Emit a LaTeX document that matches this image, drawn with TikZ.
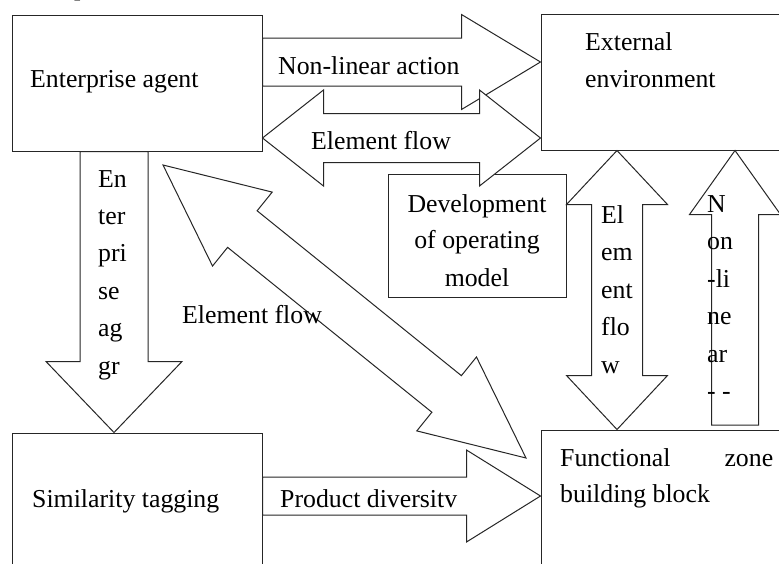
\documentclass[tikz,border=0pt]{standalone}
\usepackage{fontspec}
\setmainfont{Liberation Serif}
\usetikzlibrary{calc}
\tikzstyle{bx}=[draw=black!85,fill=white,line width=1pt,inner sep=0pt]
\tikzstyle{blk}=[draw=black!85,fill=white,line width=1pt,line join=miter]
\tikzstyle{txt}=[inner sep=0pt,font=\fontsize{25.8pt}{37.5pt}\selectfont]
% block arrows: tail, tip, half shaft, half head, head length, name
\newcommand{\onearrow}[6]{%
  \coordinate (#6h) at ($(#2)!#5!(#1)$);
  \draw[blk] ($(#1)!#3!90:(#2)$) -- ($(#6h)!#3!90:(#2)$) -- ($(#6h)!#4!90:(#2)$) -- (#2)
    -- ($(#6h)!#4!-90:(#2)$) -- ($(#6h)!#3!-90:(#2)$) -- ($(#1)!#3!-90:(#2)$) -- cycle;}
\newcommand{\twoarrow}[6]{%
  \coordinate (#6a) at ($(#1)!#5!(#2)$);
  \coordinate (#6b) at ($(#2)!#5!(#1)$);
  \draw[blk] (#1) -- ($(#6a)!#4!90:(#2)$) -- ($(#6a)!#3!90:(#2)$) -- ($(#6b)!#3!90:(#2)$)
    -- ($(#6b)!#4!90:(#2)$) -- (#2) -- ($(#6b)!#4!-90:(#2)$) -- ($(#6b)!#3!-90:(#2)$)
    -- ($(#6a)!#3!-90:(#2)$) -- ($(#6a)!#4!-90:(#2)$) -- cycle;}

\begin{document}
\begin{tikzpicture}[x=1pt,y=-1pt]
\useasboundingbox (0,0) rectangle (779,563);
\node[bx,minimum width=250pt,minimum height=136pt] (ent) at (137,83) {};
\node[bx,minimum width=259pt,minimum height=136pt] (ext) at (670.5,82) {};
\node[bx,minimum width=178pt,minimum height=123pt] (dev) at (477,235.5) {};
\node[bx,minimum width=250pt,minimum height=167pt] (sim) at (137,516.5) {};
\node[bx,minimum width=259pt,minimum height=170pt] (fun) at (670.5,515) {};

\coordinate (nla1) at (ent.east |- 0,62);
\coordinate (nla2) at (ext.west |- 0,62);
\coordinate (efa1) at (ent.east |- 0,138);
\coordinate (efa2) at (ext.west |- 0,138);
\coordinate (agg1) at (114,0 |- ent.south);
\coordinate (agg2) at (114,0 |- sim.north);
\coordinate (dia1) at (163,165);
\coordinate (dia2) at (526,458);
\coordinate (pd1) at (sim.east |- 0,496);
\coordinate (pd2) at (fun.west |- 0,496);
\coordinate (efb1) at (617,0 |- ext.south);
\coordinate (efb2) at (617,0 |- fun.north);
\coordinate (nl1) at (735,425);
\coordinate (nl2) at (735,0 |- ext.south);

\onearrow{nla1}{nla2}{24pt}{47.5pt}{79pt}{nla}
\twoarrow{efa1}{efa2}{24.5pt}{48pt}{61pt}{efa}
\onearrow{agg1}{agg2}{34pt}{68pt}{71pt}{agg}
\twoarrow{dia1}{dia2}{23.5pt}{47.5pt}{102pt}{dia}
\onearrow{pd1}{pd2}{19pt}{46pt}{74pt}{pd}
\twoarrow{efb1}{efb2}{25.5pt}{50.5pt}{54pt}{efb}
\onearrow{nl1}{nl2}{23.5pt}{45.5pt}{64pt}{nl}

\node[txt,anchor=base west] (cut) at (74,-5) {p};
\node[txt,anchor=base west] (entt) at (30,87) {Enterprise agent};
\node[txt,anchor=base west] (extt1) at (585,50) {External};
\node[txt,anchor=base west] (extt2) at (585,87) {environment};
\node[txt,anchor=base] (devt1) at (477,212) {Development};
\node[txt,anchor=base] (devt2) at (477,248) {of operating};
\node[txt,anchor=base] (devt3) at (477,286) {model};
\node[txt,anchor=base west] (simt) at (32,507) {Similarity tagging};
\node[txt,anchor=base west] (funt1) at (560,466) {\hbox to 213pt{Functional\hfill zone}};
\node[txt,anchor=base west] (funt2) at (560,502) {building block};

\node[txt,anchor=base west] (nlat) at (278,74) {Non-linear action};
\node[txt,anchor=base west] (efat) at (311,149) {Element flow};
\node[txt,anchor=base west] (diat) at (182,323) {Element flow};
\node[txt,anchor=base west] (pdt) at (280,507) {Product diversitv};
\foreach \s [count=\i] in {En,ter,pri,se,ag,gr}
  \node[txt,anchor=base west] (aggt\i) at (98,{187+37.4*(\i-1)}) {\s};
\foreach \s [count=\i] in {El,em,ent,flo,w}
  \node[txt,anchor=base west] (efbt\i) at (601,{223+37.5*(\i-1)}) {\s};
\foreach \s [count=\i] in {N,on,-li,ne,ar,- -}
  \node[txt,anchor=base west] (nlt\i) at (707,{212+37.5*(\i-1)}) {\s};
\end{tikzpicture}
\end{document}
